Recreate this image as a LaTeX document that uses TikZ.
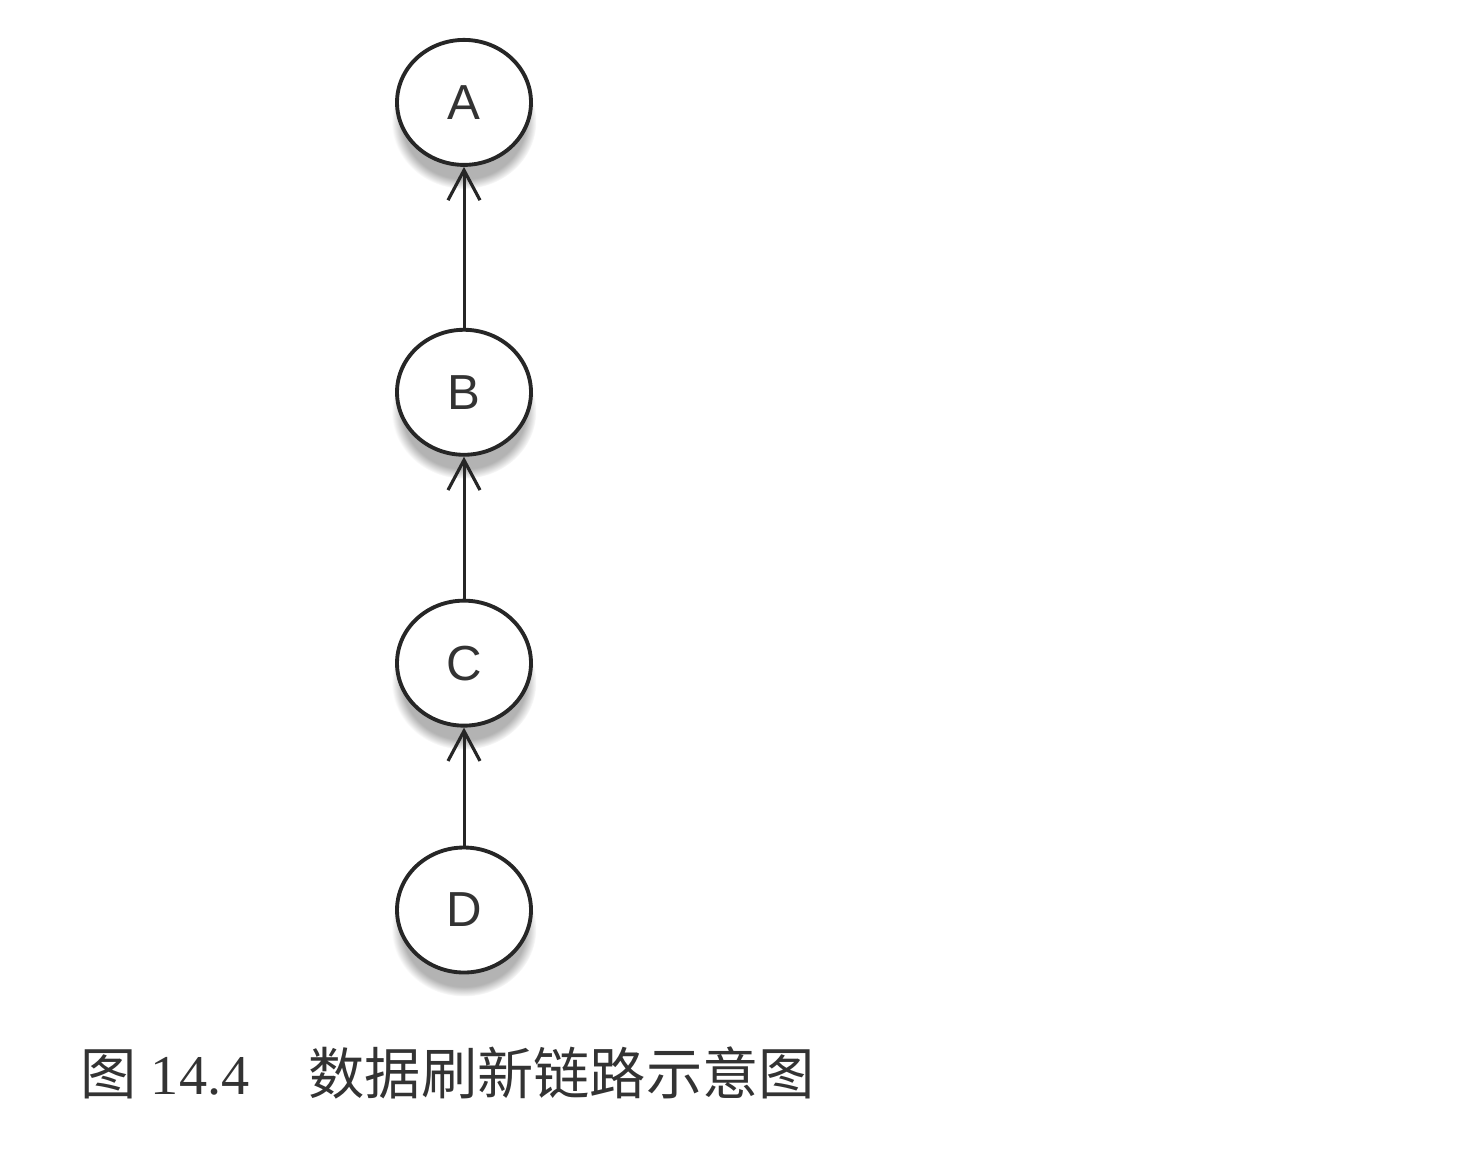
\documentclass[tikz,border=0pt]{standalone}
\usepackage{fontspec}
\setmainfont{Liberation Serif}
\newfontfamily\cjk{Noto Sans CJK SC}
\newfontfamily\labelfont{Liberation Sans}
\usepackage{tikz}
\usetikzlibrary{
  positioning,
  arrows.meta,
  shapes.geometric,
  shadows,
  fadings
}

\begin{document}
\begin{tikzpicture}[
      stage/.style={draw=black!85, ellipse, line width=1.1pt, fill=white, minimum width=1.34cm, minimum height=1.25cm, inner sep=0pt, font=\labelfont\fontsize{14}{16}\selectfont, text=black!80, circular drop shadow={shadow xshift=0pt, shadow yshift=-5pt, shadow scale=1.08, opacity=0.6}},
      arr/.style={-{Straight Barb[length=3mm, width=3.2mm, line width=0.9pt]}, line width=0.85pt, black!85}
    ]
    \useasboundingbox (0,0) rectangle (14.7,11.62);
    \node[stage] (d) at (4.64,2.52) {D};
    \node[stage, above=1.18cm of d] (c) {C};
    \node[stage, above=1.42cm of c] (b) {B};
    \node[stage, above=1.61cm of b] (a) {A};
    \draw[arr] (d) -- (c);
    \draw[arr] (c) -- (b);
    \draw[arr] (b) -- (a);
    % caption
    \node[anchor=base west, inner sep=0pt, font=\fontsize{16}{18}\selectfont, text=black!80] (fignum) at (0.80,0.68) {{\cjk 图} 14.4};
    \node[anchor=base west, inner sep=0pt, font=\cjk\fontsize{16}{18}\selectfont, text=black!80] (figtitle) at (3.08,0.68) {数据刷新链路示意图};
  \end{tikzpicture}
\end{document}
